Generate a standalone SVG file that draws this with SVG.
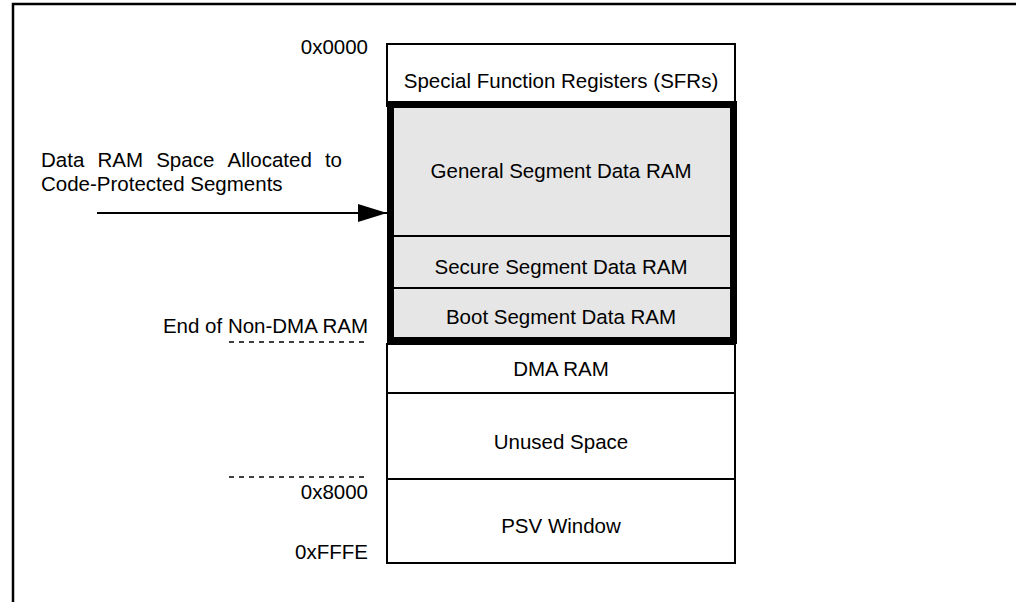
<svg xmlns="http://www.w3.org/2000/svg" width="1016" height="602" viewBox="0 0 1016 602">
<style>
text{font-family:"Liberation Sans",Arial,sans-serif;font-size:20.5px;fill:#000;dominant-baseline:central}
.c{text-anchor:middle}
.r{text-anchor:end}
.thin{fill:#fff;stroke:#000;stroke-width:2}
.dash{stroke:#000;stroke-width:1.5;stroke-dasharray:5,5;fill:none}
</style>
<defs>
<marker id="ah" markerWidth="30" markerHeight="20" refX="29" refY="9" orient="auto" markerUnits="userSpaceOnUse">
<path d="M0,0 L29,9 L0,18 Z" fill="#000"/>
</marker>
</defs>
<path d="M13,602 V4 H1016" fill="none" stroke="#000" stroke-width="2.5"/>
<g id="sfr"><rect class="thin" x="387" y="44" width="348" height="62"/><text class="c" x="561" y="80">Special Function Registers (SFRs)</text></g>
<g id="protected">
<rect x="390.5" y="104.5" width="343" height="236" fill="#e6e6e6" stroke="#000" stroke-width="7"/>
<line x1="394" y1="236" x2="730" y2="236" stroke="#000" stroke-width="2"/>
<line x1="394" y1="288" x2="730" y2="288" stroke="#000" stroke-width="2"/>
</g>
<g id="general"><text class="c" x="561" y="170">General Segment Data RAM</text></g>
<g id="secure"><text class="c" x="561" y="266">Secure Segment Data RAM</text></g>
<g id="boot"><text class="c" x="561" y="316">Boot Segment Data RAM</text></g>
<g id="dma"><rect class="thin" x="387" y="344" width="348" height="49"/><text class="c" x="561" y="368">DMA RAM</text></g>
<g id="unused"><rect class="thin" x="387" y="393" width="348" height="86"/><text class="c" x="561" y="441">Unused Space</text></g>
<g id="psv"><rect class="thin" x="387" y="479" width="348" height="84"/><text class="c" x="561" y="525">PSV Window</text></g>
<g id="labels">
<text class="r" x="368" y="46">0x0000</text>
<text y="159"><tspan x="41">Data</tspan><tspan x="97.5">RAM</tspan><tspan x="156.2">Space</tspan><tspan x="227.5">Allocated</tspan><tspan x="324.9">to</tspan></text>
<text x="41" y="183">Code-Protected Segments</text>
<text class="r" x="368" y="325">End of Non-DMA RAM</text>
<text class="r" x="368" y="491">0x8000</text>
<text class="r" x="368" y="551">0xFFFE</text>
</g>
<g id="connectors">
<line x1="97" y1="213" x2="387" y2="213" stroke="#000" stroke-width="2" marker-end="url(#ah)"/>
<line class="dash" x1="229" y1="342" x2="368" y2="342"/>
<line class="dash" x1="229" y1="477" x2="368" y2="477"/>
</g>
</svg>
